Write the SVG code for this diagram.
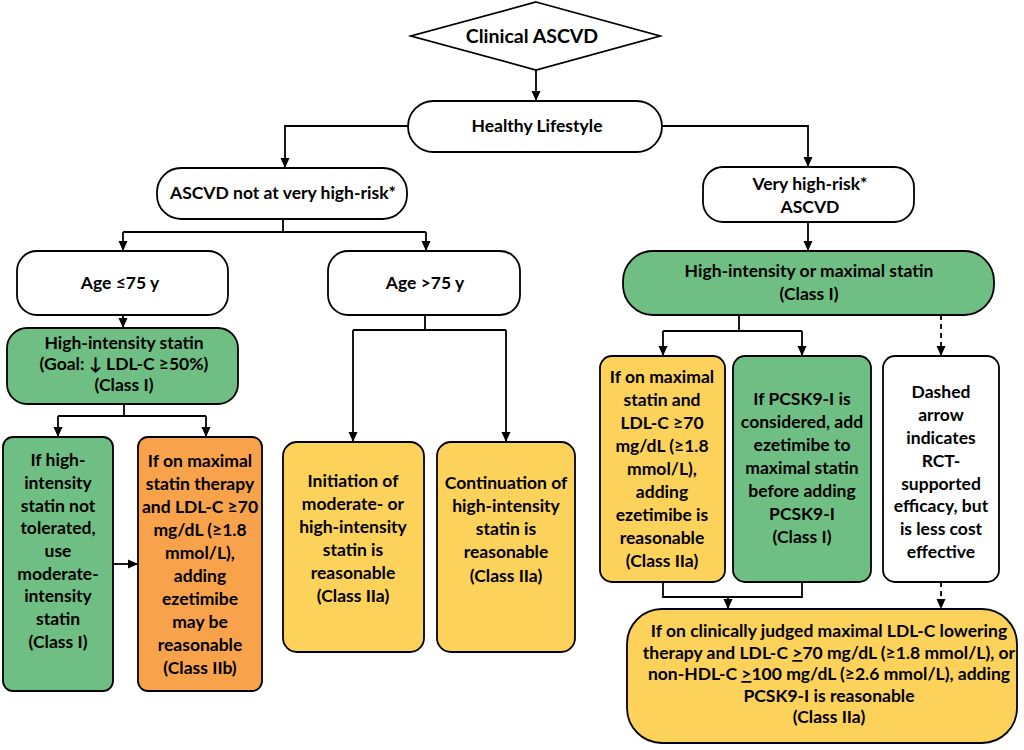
<svg xmlns="http://www.w3.org/2000/svg" width="1024" height="750" viewBox="0 0 1024 750">
<defs>
<marker id="ah" markerUnits="userSpaceOnUse" markerWidth="10" markerHeight="10" viewBox="0 0 10 10" refX="10" refY="5" orient="auto">
<path d="M0,0.5 L10,5 L0,9.5 Z" fill="#000"/>
</marker>
<style>
.n{stroke:#000;stroke-width:1.8}
.w{fill:#fff}
.g{fill:#6fbf84}
.y{fill:#fdd25a}
.o{fill:#f8a24c}
text{font-family:Lato,"Liberation Sans",sans-serif;font-weight:bold;font-size:17.5px;fill:#000;text-anchor:middle}
.c{fill:none;stroke:#000;stroke-width:1.8}
.a{marker-end:url(#ah)}
.d{stroke-dasharray:5,4}
</style>
</defs>
<rect width="1024" height="750" fill="#fff"/>
<g id="connectors">
<path class="c a" d="M536,70 V101"/>
<path class="c a" d="M408,126 H285 V168"/>
<path class="c a" d="M662,126 H808 V167"/>
<path class="c" d="M283,219 V232 M123,232 H426"/>
<path class="c a" d="M123,232 V251"/>
<path class="c a" d="M426,232 V251"/>
<path class="c a" d="M123,315 V328"/>
<path class="c" d="M124,404 V416 M58,416 H206"/>
<path class="c a" d="M58,416 V437"/>
<path class="c a" d="M206,416 V437"/>
<path class="c a" d="M113,564 H138"/>
<path class="c" d="M425,315 V330 M353,330 H506"/>
<path class="c a" d="M353,330 V442"/>
<path class="c a" d="M506,330 V442"/>
<path class="c a" d="M808,222 V251"/>
<path class="c" d="M739,315 V331 M663,331 H802"/>
<path class="c a" d="M663,331 V356"/>
<path class="c a" d="M802,331 V356"/>
<path class="c a d" d="M941,315 V356"/>
<path class="c" d="M663,582 V597 H802 V582 M728,597 V600"/>
<path class="c a" d="M728,597 V609"/>
<path class="c a d" d="M941,582 V609"/>
</g>
<g id="clinical">
<polygon class="n w" points="536,2 660,36 536,70 411,36"/>
<text x="532" y="43" style="font-size:19.5px">Clinical ASCVD</text>
</g>
<g id="healthy">
<rect class="n w" x="408" y="101" width="254" height="51" rx="25.5"/>
<text x="537" y="132">Healthy Lifestyle</text>
</g>
<g id="notvery">
<rect class="n w" x="157" y="168" width="250" height="51" rx="24"/>
<text x="283" y="199">ASCVD not at very high-risk*</text>
</g>
<g id="veryhigh">
<rect class="n w" x="703" y="167" width="211" height="55" rx="20"/>
<text x="810" y="190">Very high-risk*</text>
<text x="810" y="213">ASCVD</text>
</g>
<g id="age75">
<rect class="n w" x="17" y="251" width="211" height="64" rx="20"/>
<text x="120" y="289">Age ≤75 y</text>
</g>
<g id="agegt75">
<rect class="n w" x="328" y="251" width="192" height="64" rx="20"/>
<text x="425" y="289">Age &gt;75 y</text>
</g>
<g id="highstatin">
<rect class="n g" x="7" y="328" width="231" height="76" rx="20"/>
<text x="124" y="349">High-intensity statin</text>
<text x="124" y="370">(Goal: ↓ LDL-C ≥50%)</text>
<text x="124" y="391">(Class I)</text>
</g>
<g id="notTolerated">
<rect class="n g" x="3" y="437" width="110" height="254" rx="10"/>
<text x="58"><tspan x="58" y="466">If high-</tspan><tspan x="58" y="489">intensity</tspan><tspan x="58" y="512">statin not</tspan><tspan x="58" y="534">tolerated,</tspan><tspan x="58" y="557">use</tspan><tspan x="58" y="580">moderate-</tspan><tspan x="58" y="602">intensity</tspan><tspan x="58" y="625">statin</tspan><tspan x="58" y="648">(Class I)</tspan></text>
</g>
<g id="ezeIIb">
<rect class="n o" x="138" y="437" width="124" height="254" rx="10"/>
<text x="200"><tspan x="200" y="467">If on maximal</tspan><tspan x="200" y="490">statin therapy</tspan><tspan x="200" y="513">and LDL-C ≥70</tspan><tspan x="200" y="536">mg/dL (≥1.8</tspan><tspan x="200" y="559">mmol/L),</tspan><tspan x="200" y="582">adding</tspan><tspan x="200" y="605">ezetimibe</tspan><tspan x="200" y="628">may be</tspan><tspan x="200" y="651">reasonable</tspan><tspan x="200" y="674">(Class IIb)</tspan></text>
</g>
<g id="initiation">
<rect class="n y" x="283" y="442" width="141" height="210" rx="14"/>
<text x="353"><tspan x="353" y="487">Initiation of</tspan><tspan x="353" y="510">moderate- or</tspan><tspan x="353" y="533">high-intensity</tspan><tspan x="353" y="556">statin is</tspan><tspan x="353" y="579">reasonable</tspan><tspan x="353" y="602">(Class IIa)</tspan></text>
</g>
<g id="continuation">
<rect class="n y" x="437" y="442" width="138" height="210" rx="14"/>
<text x="506"><tspan x="506" y="489">Continuation of</tspan><tspan x="506" y="512">high-intensity</tspan><tspan x="506" y="535">statin is</tspan><tspan x="506" y="558">reasonable</tspan><tspan x="506" y="582">(Class IIa)</tspan></text>
</g>
<g id="maxstatin">
<rect class="n g" x="623" y="251" width="371" height="64" rx="30"/>
<text x="809" y="277">High-intensity or maximal statin</text>
<text x="809" y="300">(Class I)</text>
</g>
<g id="ezeIIa">
<rect class="n y" x="600" y="356" width="125" height="226" rx="12"/>
<text x="662"><tspan x="662" y="383">If on maximal</tspan><tspan x="662" y="406">statin and</tspan><tspan x="662" y="429">LDL-C ≥70</tspan><tspan x="662" y="452">mg/dL (≥1.8</tspan><tspan x="662" y="475">mmol/L),</tspan><tspan x="662" y="498">adding</tspan><tspan x="662" y="521">ezetimibe is</tspan><tspan x="662" y="544">reasonable</tspan><tspan x="662" y="567">(Class IIa)</tspan></text>
</g>
<g id="pcsk9first">
<rect class="n g" x="733" y="356" width="138" height="226" rx="12"/>
<text x="802"><tspan x="802" y="405">If PCSK9-I is</tspan><tspan x="802" y="428">considered, add</tspan><tspan x="802" y="451">ezetimibe to</tspan><tspan x="802" y="474">maximal statin</tspan><tspan x="802" y="497">before adding</tspan><tspan x="802" y="520">PCSK9-I</tspan><tspan x="802" y="543">(Class I)</tspan></text>
</g>
<g id="dashedNote">
<rect class="n w" x="883" y="356" width="116" height="226" rx="12"/>
<text x="941"><tspan x="941" y="398">Dashed</tspan><tspan x="941" y="421">arrow</tspan><tspan x="941" y="444">indicates</tspan><tspan x="941" y="467">RCT-</tspan><tspan x="941" y="490">supported</tspan><tspan x="941" y="512">efficacy, but</tspan><tspan x="941" y="535">is less cost</tspan><tspan x="941" y="558">effective</tspan></text>
</g>
<g id="pcsk9">
<rect class="n y" x="627" y="609" width="390" height="134" rx="35"/>
<text x="829"><tspan x="829" y="637">If on clinically judged maximal LDL-C lowering</tspan><tspan x="829" y="659">therapy and LDL-C <tspan text-decoration="underline">&gt;</tspan>70 mg/dL (≥1.8 mmol/L), or</tspan><tspan x="829" y="680">non-HDL-C <tspan text-decoration="underline">&gt;</tspan>100 mg/dL (≥2.6 mmol/L), adding</tspan><tspan x="829" y="702">PCSK9-I is reasonable</tspan><tspan x="829" y="723">(Class IIa)</tspan></text>
</g>
</svg>
